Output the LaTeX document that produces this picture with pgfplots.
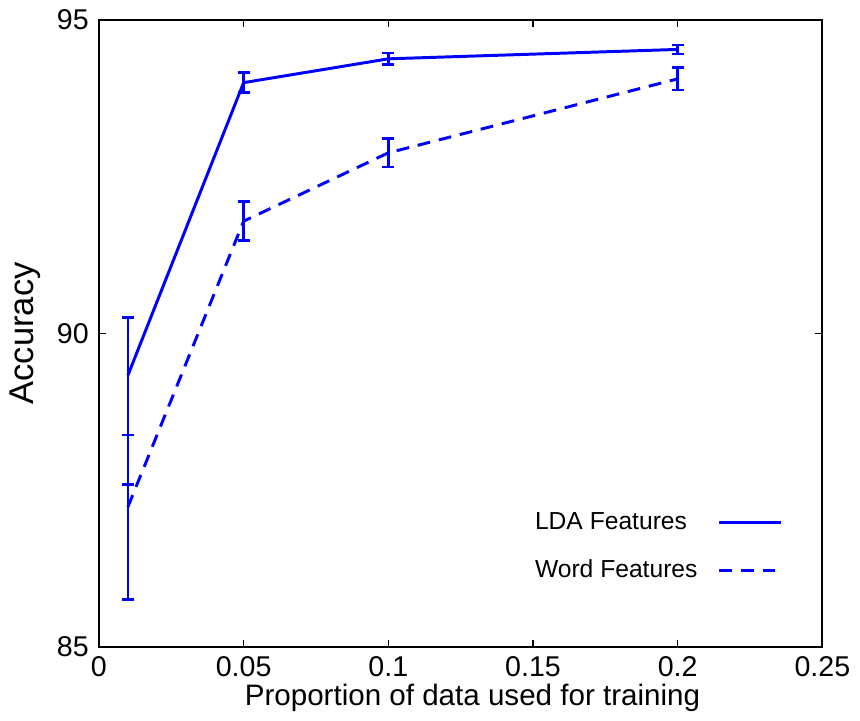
\documentclass[border=0pt]{standalone}
\usepackage{fontspec}
\setmainfont{Liberation Sans}
\usepackage{pgfplots}
\pgfplotsset{compat=1.18}
\definecolor{pblue}{RGB}{0,0,255}
\begin{document}
\fontsize{15}{18}\selectfont
\begin{tikzpicture}
\begin{axis}[
  width=367pt, height=318pt, scale only axis,
  xmin=0, xmax=0.25, ymin=85, ymax=95,
  xtick={0,0.05,0.1,0.15,0.2,0.25},
  xticklabels={0,0.05,0.1,0.15,0.2,0.25},
  ytick={85,90,95},
  yticklabels={85,90,95},
  /pgf/number format/assume math mode=true,
  tick align=inside, major tick length=3.5pt,
  tick style={line width=0.8pt, black},
  axis line style={line width=1pt},
  xlabel={Proportion of data used for training},
  ylabel={Accuracy},
  tick label style={font=\fontsize{14.5}{17}\selectfont},
  xlabel style={font=\fontsize{15}{18}\selectfont, yshift=7pt, xshift=6pt},
  ylabel style={font=\fontsize{17.5}{20}\selectfont, yshift=-2pt},
  legend style={draw=none, fill=none, font=\fontsize{12.5}{15}\selectfont,
    at={(0.954,0.091)}, anchor=south east, row sep=9pt},
  legend plot pos=right,
  legend cell align=left,
  legend image code/.code={\path[draw=none,fill=none] (0pt,0pt) -- (1pt,0pt);\draw[#1] (9pt,0pt) -- (40.5pt,0pt);},
]
\addplot[pblue, line width=1.5pt, mark=none,
  error bars/.cd, y dir=both, y explicit,
  error bar style={line width=1.3pt},
  error mark options={rotate=90, mark size=3pt, line width=1.3pt, pblue}]
coordinates {
  (0.01,89.33) += (0,0.92) -= (0,1.74)
  (0.05,94.00) +- (0,0.16)
  (0.10,94.38) +- (0,0.095)
  (0.20,94.53) +- (0,0.07)
};
\addlegendentry{LDA Features}
\addplot[pblue, line width=1.5pt, mark=none, dash pattern=on 6.5pt off 4.5pt,
  error bars/.cd, y dir=both, y explicit,
  error bar style={line width=1.3pt, solid},
  error mark options={rotate=90, mark size=3pt, line width=1.3pt, pblue, solid}]
coordinates {
  (0.01,87.23) += (0,1.15) -= (0,1.48)
  (0.05,91.79) +- (0,0.31)
  (0.10,92.88) +- (0,0.225)
  (0.20,94.06) +- (0,0.18)
};
\addlegendentry{Word Features}
\end{axis}
\end{tikzpicture}
\end{document}
